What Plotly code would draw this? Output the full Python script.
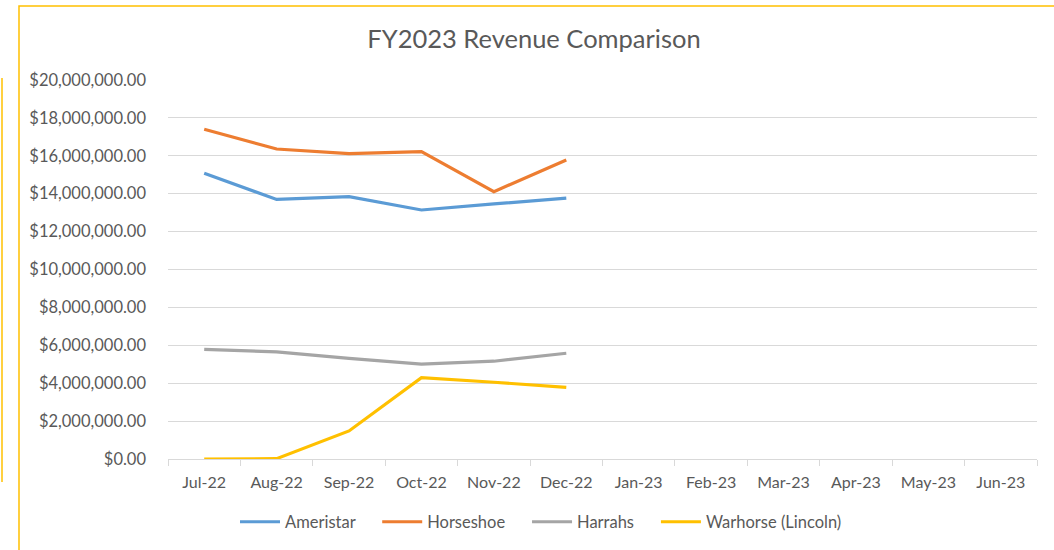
import plotly.graph_objects as go

months = ["Jul-22", "Aug-22", "Sep-22", "Oct-22", "Nov-22", "Dec-22",
          "Jan-23", "Feb-23", "Mar-23", "Apr-23", "May-23", "Jun-23"]
ameristar = [15080000, 13700000, 13840000, 13140000, 13460000, 13770000]
horseshoe = [17400000, 16360000, 16110000, 16220000, 14110000, 15780000]
harrahs = [5790000, 5650000, 5310000, 5010000, 5160000, 5580000]
warhorse = [0, 20000, 1480000, 4290000, 4050000, 3780000]
tick_vals = [i * 2000000 for i in range(11)]
tick_text = ["${:,.2f}".format(v) for v in tick_vals]

series = [
    ("Ameristar", ameristar, "#5B9BD5"),
    ("Horseshoe", horseshoe, "#ED7D31"),
    ("Harrahs", harrahs, "#A5A5A5"),
    ("Warhorse (Lincoln)", warhorse, "#FFC000"),
]

pad = "\u00a0" * 4
fig = go.Figure()
for i, (name, vals, color) in enumerate(series):
    label = name + (pad if i < len(series) - 1 else "")
    fig.add_trace(go.Scatter(x=months[:len(vals)], y=vals, name=label, mode="lines",
                             line=dict(color=color, width=3.2)))

font = "Lato, Carlito, Calibri, sans-serif"
L, R, T, B = 168, 1037, 80, 459
W, H = R - L, B - T

def px(x):
    return (x - L) / W

def py(y):
    return (B - y) / H

fig.update_layout(
    width=1054, height=550,
    margin=dict(l=L, r=1054 - R, t=T, b=550 - B, autoexpand=False),
    paper_bgcolor="white", plot_bgcolor="white",
    title=dict(text="FY2023 Revenue Comparison", x=534 / 1054, xanchor="center",
               xref="container", yref="container",
               y=1 - 39 / 550, yanchor="middle",
               font=dict(family=font, size=25.5, color="#595959")),
    font=dict(family=font, size=16, color="#595959"),
    showlegend=True,
    legend=dict(orientation="h", xref="container", yref="container",
                x=541 / 1054, xanchor="center", y=1 - 522 / 550, yanchor="middle",
                font=dict(family=font, size=16.5, color="#595959"),
                itemwidth=40, tracegroupgap=0, bgcolor="rgba(0,0,0,0)"),
    xaxis=dict(type="category", categoryorder="array", categoryarray=months,
               tickmode="array", tickvals=months, ticktext=months, automargin=False,
               range=[-0.5, 11.5], tickson="boundaries", ticks="outside", ticklen=6,
               tickcolor="#D9D9D9", showline=True, linecolor="#D9D9D9", linewidth=1,
               showgrid=False, zeroline=False, ticklabelstandoff=9,
               tickfont=dict(family=font, size=16, color="#595959")),
    yaxis=dict(range=[0, 20000000], tickvals=tick_vals, ticktext=tick_text,
               showgrid=True, gridcolor="#D9D9D9", gridwidth=1, zeroline=False,
               showline=False, ticks="", ticklabelstandoff=21, automargin=False,
               tickfont=dict(family=font, size=16.5, color="#595959")),
)

# chart frame (yellow border) and partial frame of object behind
fig.add_shape(type="rect", xref="paper", yref="paper",
              x0=px(19), x1=px(1120), y0=py(620), y1=py(6),
              line=dict(color="#FFC000", width=1.5), fillcolor="rgba(0,0,0,0)", layer="below")
fig.add_shape(type="line", xref="paper", yref="paper",
              x0=px(2), x1=px(2), y0=py(78), y1=py(482),
              line=dict(color="#FFC000", width=1.5))

fig.write_html("out.html", config={"displayModeBar": False},
               post_script="document.body.style.margin='0';document.body.style.overflow='hidden';")
